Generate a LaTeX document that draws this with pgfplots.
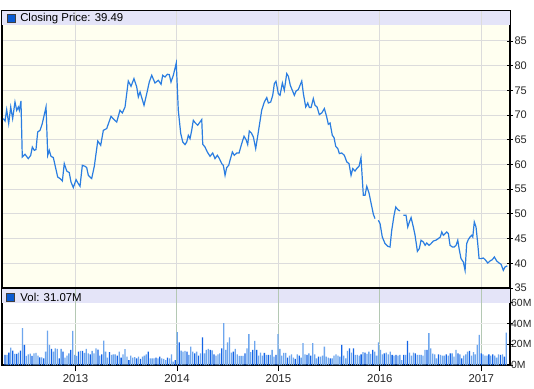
\documentclass[border=0pt]{standalone}
\usepackage{pgfplots}
\usepackage{pgfplotstable}
\usepackage{fontspec}
\setmainfont{Liberation Sans}
\pgfplotsset{compat=1.18}
\definecolor{cream}{HTML}{FFFFF0}
\definecolor{band}{HTML}{E4E4F8}
\definecolor{gridg}{HTML}{DCDCDC}
\definecolor{vgrid}{HTML}{B4C8B4}
\definecolor{hgrid}{HTML}{EBEBEB}
\definecolor{priceblue}{HTML}{2A7DE1}
\definecolor{voldark}{HTML}{1464E6}
\definecolor{vollight}{HTML}{6EA6EE}
\definecolor{legblue}{HTML}{0A5AD2}

\pgfplotstableread[row sep=\\]{
i v\\
0 9.7\\ 1 9.7\\ 2 11.9\\ 3 16.8\\ 4 13.9\\ 5 10.6\\ 6 10.6\\ 7 11.9\\ 8 13.9\\ 9 35.5\\
10 19.4\\ 11 8.7\\ 12 10.3\\ 13 11.0\\ 14 8.7\\ 15 11.3\\ 16 11.6\\ 17 9.0\\ 18 7.4\\ 19 7.4\\
20 6.5\\ 21 12.9\\ 22 33.2\\ 23 19.4\\ 24 15.5\\ 25 12.9\\ 26 16.1\\ 27 15.5\\ 28 6.5\\ 29 15.5\\
30 12.9\\ 31 7.1\\ 32 9.0\\ 33 11.3\\ 34 14.5\\ 35 32.9\\ 36 9.7\\ 37 8.7\\ 38 12.9\\ 39 13.5\\
40 13.5\\ 41 11.6\\ 42 15.5\\ 43 11.3\\ 44 10.3\\ 45 13.5\\ 46 11.3\\ 47 16.1\\ 48 14.8\\ 49 9.0\\
50 10.3\\ 51 23.5\\ 52 12.9\\ 53 7.1\\ 54 12.3\\ 55 9.7\\ 56 10.3\\ 57 10.3\\ 58 9.0\\ 59 12.9\\
60 7.1\\ 61 10.3\\ 62 15.2\\ 63 8.1\\ 64 4.8\\ 65 9.0\\ 66 7.1\\ 67 7.7\\ 68 6.5\\ 69 8.1\\
70 5.8\\ 71 8.1\\ 72 9.0\\ 73 10.3\\ 74 12.9\\ 75 6.5\\ 76 6.5\\ 77 6.5\\ 78 7.1\\ 79 6.5\\
80 8.1\\ 81 6.5\\ 82 5.8\\ 83 4.8\\ 84 7.1\\ 85 6.5\\ 86 10.3\\ 87 3.2\\ 88 4.8\\ 89 31.6\\
90 21.9\\ 91 13.9\\ 92 12.9\\ 93 13.5\\ 94 12.9\\ 95 9.7\\ 96 17.7\\ 97 12.9\\ 98 11.3\\ 99 12.9\\
100 9.0\\ 101 11.3\\ 102 26.5\\ 103 11.3\\ 104 14.5\\ 105 15.5\\ 106 14.5\\ 107 14.2\\ 108 10.3\\ 109 9.0\\
110 10.3\\ 111 11.3\\ 112 16.1\\ 113 40.3\\ 114 14.5\\ 115 21.9\\ 116 26.5\\ 117 11.9\\ 118 12.9\\ 119 15.5\\
120 10.3\\ 121 8.7\\ 122 8.7\\ 123 8.7\\ 124 11.3\\ 125 16.1\\ 126 29.7\\ 127 12.3\\ 128 14.5\\ 129 23.2\\
130 14.5\\ 131 9.0\\ 132 11.9\\ 133 9.0\\ 134 11.6\\ 135 9.7\\ 136 9.7\\ 137 9.7\\ 138 14.5\\ 139 8.1\\
140 9.7\\ 141 29.7\\ 142 15.5\\ 143 9.0\\ 144 11.6\\ 145 11.6\\ 146 7.1\\ 147 9.0\\ 148 10.3\\ 149 7.1\\
150 5.8\\ 151 10.3\\ 152 9.0\\ 153 7.1\\ 154 21.0\\ 155 10.3\\ 156 9.7\\ 157 11.3\\ 158 9.0\\ 159 21.0\\
160 10.3\\ 161 6.5\\ 162 8.1\\ 163 8.1\\ 164 9.0\\ 165 17.7\\ 166 8.1\\ 167 7.1\\ 168 6.5\\ 169 6.5\\
170 9.0\\ 171 10.3\\ 172 9.0\\ 173 8.1\\ 174 19.4\\ 175 9.0\\ 176 6.5\\ 177 13.5\\ 178 16.1\\ 179 11.9\\
180 16.1\\ 181 9.7\\ 182 9.7\\ 183 9.0\\ 184 10.3\\ 185 12.3\\ 186 11.9\\ 187 10.6\\ 188 12.9\\ 189 10.6\\
190 14.5\\ 191 12.9\\ 192 9.0\\ 193 21.9\\ 194 14.5\\ 195 10.3\\ 196 11.3\\ 197 11.9\\ 198 10.3\\ 199 12.9\\
200 9.7\\ 201 9.0\\ 202 9.7\\ 203 9.0\\ 204 9.7\\ 205 4.8\\ 206 9.7\\ 207 9.7\\ 208 23.2\\ 209 11.9\\
210 9.0\\ 211 11.9\\ 212 11.3\\ 213 9.7\\ 214 9.7\\ 215 9.7\\ 216 9.0\\ 217 14.5\\ 218 14.5\\ 219 30.6\\
220 16.1\\ 221 11.0\\ 222 10.3\\ 223 6.5\\ 224 10.3\\ 225 9.7\\ 226 9.0\\ 227 9.0\\ 228 10.3\\ 229 9.0\\
230 11.3\\ 231 11.3\\ 232 8.1\\ 233 14.5\\ 234 11.3\\ 235 10.3\\ 236 6.5\\ 237 9.0\\ 238 10.3\\ 239 12.9\\
240 13.5\\ 241 9.0\\ 242 12.3\\ 243 10.3\\ 244 19.4\\ 245 29.0\\ 246 11.3\\ 247 10.3\\ 248 9.0\\ 249 9.0\\
250 10.3\\ 251 9.0\\ 252 10.3\\ 253 9.0\\ 254 7.1\\ 255 10.3\\ 256 9.7\\ 257 10.3\\ 258 8.1\\ 259 31.1\\
}\voltable

\begin{document}
\begin{tikzpicture}
\useasboundingbox (0pt,0pt) rectangle (534pt,388pt);
\begin{axis}[
  at={(2pt,100pt)}, anchor=south west,
  scale only axis, width=508pt, height=277pt,
  xmin=2012.275, xmax=2017.283, ymin=35, ymax=91.07,
  xtick={2013,2014,2015,2016,2017}, xticklabels={},
  major x tick style={draw=none},
  ytick={35,40,...,85},
  ytick pos=right, yticklabel pos=right,
  ytick align=center,
  major tick length=6pt,
  ymajorgrids, xmajorgrids,
  grid style={gridg, line width=1pt},
  axis background/.style={fill=cream},
  axis line style={line width=1.4pt, black},
  tick style={black, line width=0.8pt},
  yticklabel style={font=\fontsize{11}{13}\selectfont, text=black!85, xshift=-2pt},
  /pgf/number format/assume math mode=true,
  unbounded coords=jump,
]
\fill[band] (axis cs:2012.275,88.18) rectangle (axis cs:2017.283,91.07);
\foreach \yr in {2013,2014,2015,2016,2017}{
  \edef\tmp{\noexpand\draw[gridg, line width=1pt] (axis cs:\yr,88.18) -- (axis cs:\yr,91.07);}\tmp
}
\addplot[priceblue, line width=1.2pt] coordinates {
(2012.288,69.29) (2012.305,68.81) (2012.321,71.11) (2012.341,68.28) (2012.361,71.64) (2012.380,69.29) (2012.403,72.65) (2012.420,70.97) (2012.436,71.64) (2012.446,70.97)
(2012.462,72.85) (2012.475,61.52) (2012.502,62.06) (2012.534,61.19) (2012.558,61.86) (2012.574,63.54) (2012.593,62.87) (2012.610,63.02) (2012.627,66.58) (2012.650,66.92)
(2012.672,68.28) (2012.709,71.64) (2012.726,61.86) (2012.741,62.87) (2012.758,61.66) (2012.781,61.40) (2012.798,59.84) (2012.824,57.47) (2012.847,57.15) (2012.870,56.66)
(2012.889,60.18) (2012.913,58.68) (2012.938,58.36) (2012.955,56.46) (2012.978,55.32) (2013.005,56.94) (2013.027,56.13) (2013.044,55.59) (2013.067,59.84) (2013.093,59.64)
(2013.110,59.37) (2013.126,57.81) (2013.159,57.15) (2013.185,59.64) (2013.219,64.76) (2013.248,63.89) (2013.274,66.92) (2013.307,67.27) (2013.350,69.76) (2013.379,69.09)
(2013.406,68.60) (2013.438,70.97) (2013.461,70.43) (2013.488,71.64) (2013.520,76.90) (2013.547,75.83) (2013.576,77.39) (2013.603,75.69) (2013.619,73.66) (2013.636,74.68)
(2013.675,71.98) (2013.702,74.35) (2013.727,76.70) (2013.751,78.06) (2013.783,76.50) (2013.816,77.04) (2013.843,76.24) (2013.859,78.06) (2013.882,77.71) (2013.905,78.26)
(2013.924,78.20) (2013.941,76.70) (2013.964,78.06) (2013.993,80.55) (2014.013,70.97) (2014.037,66.26) (2014.057,64.56) (2014.079,64.03) (2014.096,64.56) (2014.112,65.91)
(2014.129,65.24) (2014.145,66.92) (2014.161,68.95) (2014.181,68.40) (2014.204,67.94) (2014.227,68.60) (2014.244,69.09) (2014.254,64.09) (2014.276,63.54) (2014.299,62.53)
(2014.326,61.66) (2014.352,62.33) (2014.375,61.19) (2014.398,61.86) (2014.418,61.19) (2014.441,60.18) (2014.457,59.84) (2014.474,57.81) (2014.490,59.37) (2014.510,59.84)
(2014.523,60.85) (2014.546,62.53) (2014.565,61.86) (2014.589,62.33) (2014.612,62.33) (2014.638,64.23) (2014.661,65.71) (2014.681,65.04) (2014.697,64.03) (2014.713,66.78)
(2014.733,66.38) (2014.753,65.57) (2014.776,63.22) (2014.802,66.58) (2014.835,70.97) (2014.861,72.65) (2014.885,73.54) (2014.901,72.45) (2014.924,72.65) (2014.944,74.01)
(2014.960,76.38) (2014.976,76.84) (2014.999,74.35) (2015.016,74.01) (2015.039,76.50) (2015.058,75.02) (2015.082,78.40) (2015.098,77.85) (2015.117,76.03) (2015.137,75.02)
(2015.157,74.01) (2015.174,74.88) (2015.196,75.16) (2015.230,76.90) (2015.246,74.35) (2015.269,71.64) (2015.289,72.45) (2015.305,71.52) (2015.322,71.52) (2015.344,73.34)
(2015.361,71.98) (2015.381,71.64) (2015.403,70.10) (2015.427,70.43) (2015.453,71.32) (2015.476,69.62) (2015.492,68.14) (2015.509,68.40) (2015.531,65.91) (2015.548,65.45)
(2015.565,63.68) (2015.585,63.22) (2015.601,62.21) (2015.624,62.33) (2015.650,61.86) (2015.674,60.51) (2015.696,60.18) (2015.716,57.81) (2015.733,59.17) (2015.755,58.68)
(2015.772,59.17) (2015.795,59.64) (2015.814,61.40) (2015.837,53.77) (2015.854,53.77) (2015.871,55.59) (2015.893,54.23) (2015.913,52.21) (2015.936,49.92) (2015.952,49.05)
(2015.968,nan) (2015.985,48.70) (2016.002,48.04) (2016.024,45.32) (2016.051,43.99) (2016.078,43.44) (2016.100,43.30) (2016.117,46.68) (2016.140,49.72) (2016.157,51.40)
(2016.176,50.87) (2016.199,50.59) (2016.215,nan) (2016.232,49.72) (2016.258,49.72) (2016.275,47.35) (2016.291,48.36) (2016.308,49.25) (2016.330,47.35) (2016.347,45.67)
(2016.370,42.43) (2016.389,42.98) (2016.406,44.66) (2016.429,44.31) (2016.446,43.64) (2016.462,44.11) (2016.485,43.64) (2016.505,43.99) (2016.527,44.51) (2016.551,44.66)
(2016.576,45.00) (2016.596,45.32) (2016.610,46.34) (2016.626,45.67) (2016.643,46.01) (2016.659,46.34) (2016.675,46.01) (2016.692,43.64) (2016.715,43.30) (2016.734,43.30)
(2016.751,43.64) (2016.768,44.66) (2016.781,42.98) (2016.800,40.95) (2016.823,40.26) (2016.840,38.58) (2016.856,43.99) (2016.872,44.80) (2016.889,45.32) (2016.906,45.67)
(2016.916,45.32) (2016.931,48.36) (2016.948,47.35) (2016.965,43.99) (2016.978,40.95) (2016.998,40.95) (2017.020,41.07) (2017.037,40.75) (2017.064,40.06) (2017.086,40.47)
(2017.109,40.75) (2017.129,41.28) (2017.152,40.47) (2017.175,40.06) (2017.195,39.80) (2017.217,38.58) (2017.234,39.25) (2017.257,39.49)
};
\node[draw=black!75, fill=legblue, minimum size=8pt, inner sep=0pt, line width=0.6pt] at (axis cs:2012.370,89.65) {};
\node[anchor=west, inner sep=0pt, font=\fontsize{11.4}{13}\selectfont] at (axis cs:2012.453,89.60) {Closing Price: 39.49};
\end{axis}

\begin{axis}[
  at={(2pt,23pt)}, anchor=south west,
  scale only axis, width=508pt, height=76pt,
  xmin=-1.55, xmax=260.91, ymin=0, ymax=73.2,
  xtick={36.45,88.85,141.26,193.66,246.07},
  xticklabels={2013,2014,2015,2016,2017},
  xtick pos=bottom, xtick align=outside,
  ytick={0,20,40,60}, yticklabels={0M,20M,40M,60M},
  ytick pos=right, yticklabel pos=right, ytick align=center,
  major tick length=6pt,
  xmajorgrids, ymajorgrids,
  x grid style={vgrid, line width=1pt},
  y grid style={hgrid, line width=1pt},
  axis background/.style={fill=white},
  axis line style={line width=1.4pt, black},
  tick style={black, line width=0.8pt},
  yticklabel style={font=\fontsize{10.4}{12}\selectfont, text=black!85, xshift=-3pt, inner xsep=1pt},
  xticklabel style={font=\fontsize{11.4}{13}\selectfont, text=black!85},
]
\fill[band] (axis cs:-1.55,60) rectangle (axis cs:260.91,73.2);
\foreach \wk in {36.45,88.85,141.26,193.66,246.07}{
  \edef\tmp{\noexpand\draw[vgrid, line width=1pt] (axis cs:\wk,60) -- (axis cs:\wk,73.2);}\tmp
}
\addplot[ybar, bar width=1.3pt, bar shift=0pt, draw=none, fill=voldark,
  x filter/.expression={(x-2*floor(x/2))<0.5 ? x : nan}] table[x=i,y=v]{\voltable};
\addplot[ybar, bar width=1.3pt, bar shift=0pt, draw=none, fill=vollight,
  x filter/.expression={(x-2*floor(x/2))>0.5 ? x : nan}] table[x=i,y=v]{\voltable};
\node[draw=black!75, fill=legblue, minimum size=8pt, inner sep=0pt, line width=0.6pt] at (axis cs:2.85,65.3) {};
\node[anchor=west, inner sep=0pt, font=\fontsize{11.4}{13}\selectfont] at (axis cs:7.9,65.1) {Vol: 31.07M};
\end{axis}
\end{tikzpicture}
\end{document}
